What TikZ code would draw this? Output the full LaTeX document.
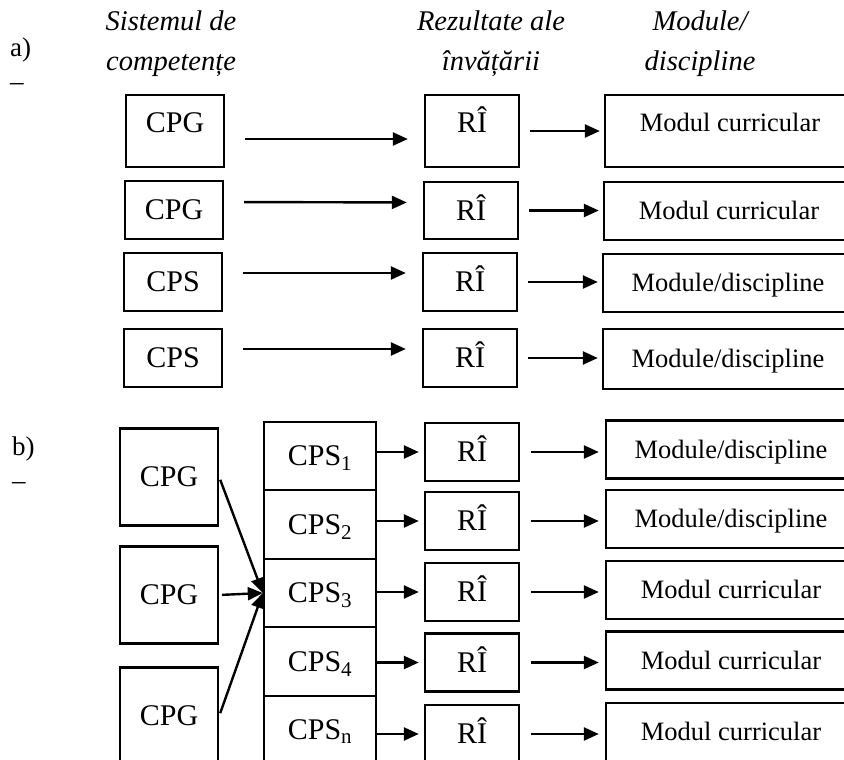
\documentclass[tikz,border=0pt]{standalone}
\usepackage{fontspec}
\setmainfont{Liberation Serif}
\usetikzlibrary{arrows.meta}

\tikzset{
  box/.style={draw, line width=2.4pt, minimum width=98pt, minimum height=58pt,
    inner sep=0pt, text height=19pt, text depth=0pt, font=\fontsize{30}{30}\selectfont},
  rbox/.style={box, minimum width=94pt},
  mbox/.style={box, minimum width=250pt, text height=17pt, font=\fontsize{26.5}{28}\selectfont},
  cbox/.style={box, minimum width=112pt, minimum height=68.5pt},
  hi/.style={text depth=16pt},
  hdr/.style={align=center, inner sep=0pt, font=\fontsize{28.5}{40}\selectfont\itshape},
  part/.style={align=left, anchor=north west, inner sep=0pt, font=\fontsize{27}{34}\selectfont},
  arr/.style={line width=2.4pt, -{Triangle[length=15pt,width=13pt]}}
}

\begin{document}
\begin{tikzpicture}[x=1pt, y=-1pt]
    \useasboundingbox (0,0) rectangle (844,760);
    \clip (0,0) rectangle (844,760);

    % Headings
    \node[hdr] (hsis) at (171,44) {Sistemul de\\competențe};
    \node[hdr] (hrez) at (491,44) {Rezultate ale\\învățării};
    \node[hdr] (hmod) at (700,44) {Module/\\discipline};

    % Part a)
    \node[part] (pa) at (10,38) {a)\\–};

    \node[box, hi, minimum height=72pt] (g1) at (175,131) {CPG};
    \foreach \i/\x/\y/\t in {2/174/210/CPG, 3/173/282/CPS, 4/173/358/CPS}
        \node[box] (g\i) at (\x,\y) {\t};

    \node[rbox, hi, minimum height=72pt] (r1) at (472,131) {RÎ};
    \foreach \i/\x/\y/\h in {2/471/210.5/57pt, 3/470/282/58pt, 4/470/358/58pt}
        \node[rbox, minimum height=\h] (r\i) at (\x,\y) {RÎ};

    \node[mbox, hi, minimum height=72pt] (m1) at (730,131) {Modul curricular};
    \foreach \i/\x/\y/\h/\t in {2/729/211/58pt/{Modul curricular},
        3/728/283/58pt/{Module/discipline}, 4/728/359/60pt/{Module/discipline}}
        \node[mbox, minimum height=\h] (m\i) at (\x,\y) {\t};

    % Arrows a)
    \foreach \i/\dy in {1/-8pt, 2/8pt, 3/9pt, 4/9pt}
        \draw[arr, shorten <=20pt, shorten >=16pt] ([yshift=\dy]g\i.east) -- ([yshift=\dy]r\i.west);
    \foreach \i in {1,...,4}
        \draw[arr, shorten <=10pt, shorten >=4pt] (r\i.east) -- (r\i.east -| m\i.west);

    % Part b)
    \node[part] (pb) at (12,437) {b)\\–};

    \foreach \i/\y in {1/477, 2/595, 3/716}
        \node[box, minimum height=97pt] (p\i) at (169,\y) {CPG};

    \foreach \i/\s/\y in {1/1/456, 2/2/524.5, 3/3/593, 4/4/661.5, 5/n/730}
        \node[cbox] (c\i) at (320,\y) {CPS\textsubscript{\s}};

    \foreach \i/\y in {1/452, 2/521, 3/592, 4/662.5, 5/734}
        \node[rbox] (q\i) at (472,\y) {RÎ};

    \foreach \i/\y/\t in {1/449.5/{Module/discipline}, 2/519/{Module/discipline},
        3/590/{Modul curricular}, 4/660.5/{Modul curricular}, 5/732/{Modul curricular}}
        \node[mbox] (n\i) at (731,\y) {\t};

    % Arrows b)
    \foreach \i in {1,2,3}
        \draw[arr, shorten <=3pt] (p\i.east) -- (c3.west);
    \foreach \i in {1,...,5}
        \draw[arr, shorten >=5pt] (c\i.east |- q\i.west) -- (q\i.west);
    \foreach \i in {1,...,5}
        \draw[arr, shorten <=11pt, shorten >=6pt] (q\i.east) -- (q\i.east -| n\i.west);
\end{tikzpicture}
\end{document}
